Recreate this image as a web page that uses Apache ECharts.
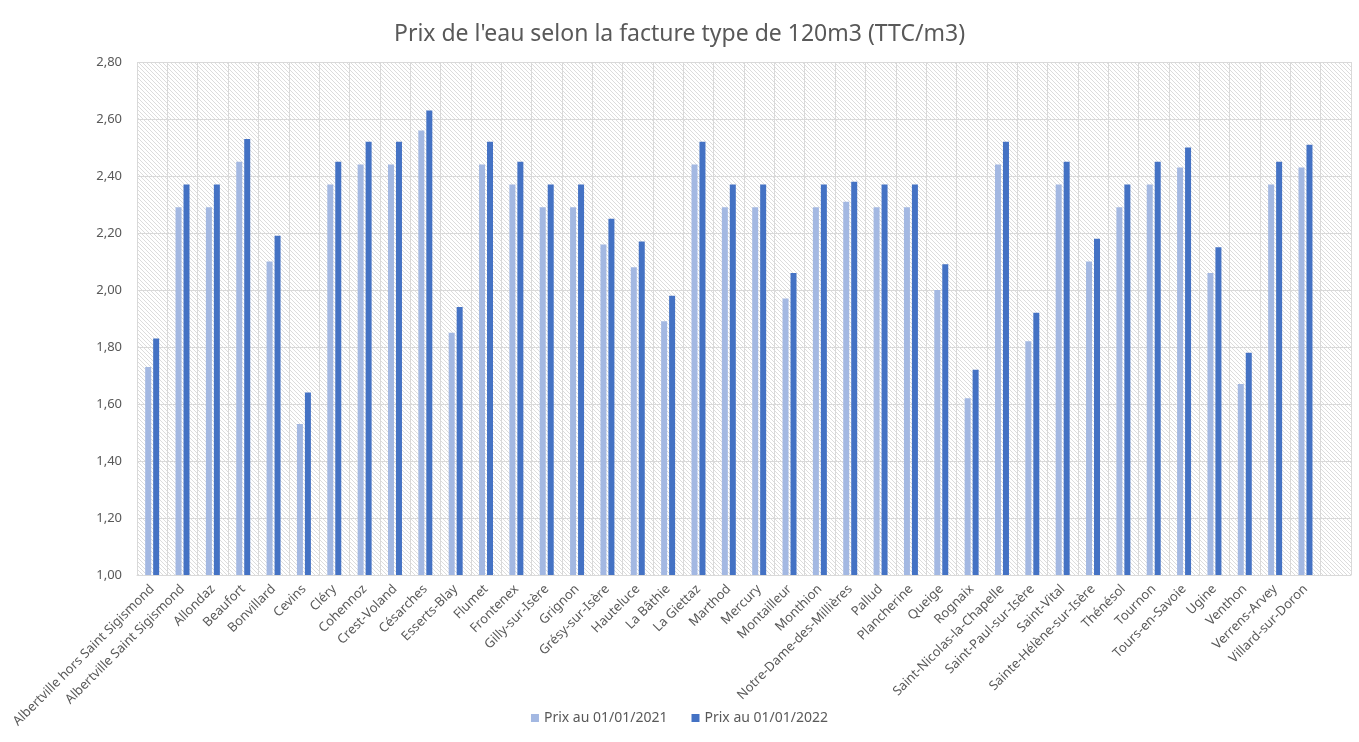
<!DOCTYPE html>
<html>
<head>
<meta charset="utf-8">
<script src="https://cdn.jsdelivr.net/npm/echarts@6/dist/echarts.min.js"></script>
<style>
  html, body { margin: 0; padding: 0; background: #fff; }
  #myEchart1 { width: 1359px; height: 742px; }
</style>
</head>
<body>
<div id="myEchart1"></div>
<script>
// communes (la dernière catégorie est vide dans le graphique d'origine)
var communes = [
  'Albertville hors Saint Sigismond', 'Albertville Saint Sigismond', 'Allondaz', 'Beaufort',
  'Bonvillard', 'Cevins', 'Cléry', 'Cohennoz', 'Crest-Voland', 'Césarches', 'Esserts-Blay',
  'Flumet', 'Frontenex', 'Gilly-sur-Isère', 'Grignon', 'Grésy-sur-Isère', 'Hauteluce',
  'La Bâthie', 'La Giettaz', 'Marthod', 'Mercury', 'Montailleur', 'Monthion',
  'Notre-Dame-des-Millières', 'Pallud', 'Plancherine', 'Queige', 'Rognaix',
  'Saint-Nicolas-la-Chapelle', 'Saint-Paul-sur-Isère', 'Saint-Vital', 'Sainte-Hélène-sur-Isère',
  'Thénésol', 'Tournon', 'Tours-en-Savoie', 'Ugine', 'Venthon', 'Verrens-Arvey',
  'Villard-sur-Doron', ''
];

var prix2021 = [
  1.73, 2.29, 2.29, 2.45, 2.10, 1.53, 2.37, 2.44, 2.44, 2.56, 1.85,
  2.44, 2.37, 2.29, 2.29, 2.16, 2.08, 1.89, 2.44, 2.29, 2.29, 1.97, 2.29,
  2.31, 2.29, 2.29, 2.00, 1.62, 2.44, 1.82, 2.37, 2.10,
  2.29, 2.37, 2.43, 2.06, 1.67, 2.37, 2.43, null
];

var prix2022 = [
  1.83, 2.37, 2.37, 2.53, 2.19, 1.64, 2.45, 2.52, 2.52, 2.63, 1.94,
  2.52, 2.45, 2.37, 2.37, 2.25, 2.17, 1.98, 2.52, 2.37, 2.37, 2.06, 2.37,
  2.38, 2.37, 2.37, 2.09, 1.72, 2.52, 1.92, 2.45, 2.18,
  2.37, 2.45, 2.50, 2.15, 1.78, 2.45, 2.51, null
];

var nomsSeries = ['Prix au 01/01/2021', 'Prix au 01/01/2022'];

// motif hachuré pour le fond de la zone de tracé
function hachures(fond, trait, taille) {
  var c = document.createElement('canvas');
  c.width = taille; c.height = taille;
  var ctx = c.getContext('2d');
  ctx.fillStyle = fond;
  ctx.fillRect(0, 0, taille, taille);
  ctx.strokeStyle = trait;
  ctx.lineWidth = 1;
  ctx.beginPath();
  ctx.moveTo(-1, -1); ctx.lineTo(taille + 1, taille + 1);
  ctx.moveTo(-1, taille - 1); ctx.lineTo(1, taille + 1);
  ctx.moveTo(taille - 1, -1); ctx.lineTo(taille + 1, 1);
  ctx.stroke();
  return { image: c, repeat: 'repeat' };
}

var myChart = echarts.init(document.getElementById('myEchart1'));
var police = 'Noto Sans';

var option = {
  animation: false,
  textStyle: { fontFamily: police },
  title: {
    text: "Prix de l'eau selon la facture type de 120m3 (TTC/m3)",
    left: 'center',
    top: 18,
    textStyle: { fontSize: 23, fontWeight: 'normal', color: '#595959', fontFamily: police }
  },
  legend: {
    bottom: 12,
    left: 'center',
    itemWidth: 8,
    itemHeight: 8,
    itemGap: 24,
    icon: 'rect',
    textStyle: { fontSize: 14, color: '#595959', fontFamily: police },
    data: nomsSeries
  },
  grid: {
    left: 137,
    right: 8,
    top: 62,
    bottom: 167,
    show: true,
    backgroundColor: hachures('#ffffff', '#dcdcdc', 4),
    borderWidth: 0
  },
  xAxis: {
    type: 'category',
    data: communes,
    axisLine: { lineStyle: { color: '#d9d9d9', width: 1 } },
    axisTick: { show: false },
    splitLine: { show: true, lineStyle: { color: '#d9d9d9', width: 1 } },
    axisLabel: {
      interval: 0,
      rotate: 45,
      margin: 12,
      fontSize: 13,
      color: '#595959',
      fontFamily: police
    }
  },
  yAxis: {
    type: 'value',
    min: 1,
    max: 2.8,
    interval: 0.2,
    axisLine: { show: false },
    axisTick: { show: false },
    splitLine: { lineStyle: { color: '#d9d9d9', width: 1 } },
    axisLabel: {
      margin: 15,
      fontSize: 13,
      color: '#595959',
      fontFamily: police,
      formatter: function (v) { return v.toFixed(2).replace('.', ','); }
    }
  },
  series: [
    {
      name: nomsSeries[0],
      type: 'bar',
      data: prix2021,
      barWidth: 6,
      barGap: '33%',
      itemStyle: { color: '#a3b8e2' }
    },
    {
      name: nomsSeries[1],
      type: 'bar',
      data: prix2022,
      barWidth: 6,
      itemStyle: { color: '#4472c4' }
    }
  ]
};

option && myChart.setOption(option);
window.addEventListener('resize', function () { myChart.resize(); });
</script>
</body>
</html>
